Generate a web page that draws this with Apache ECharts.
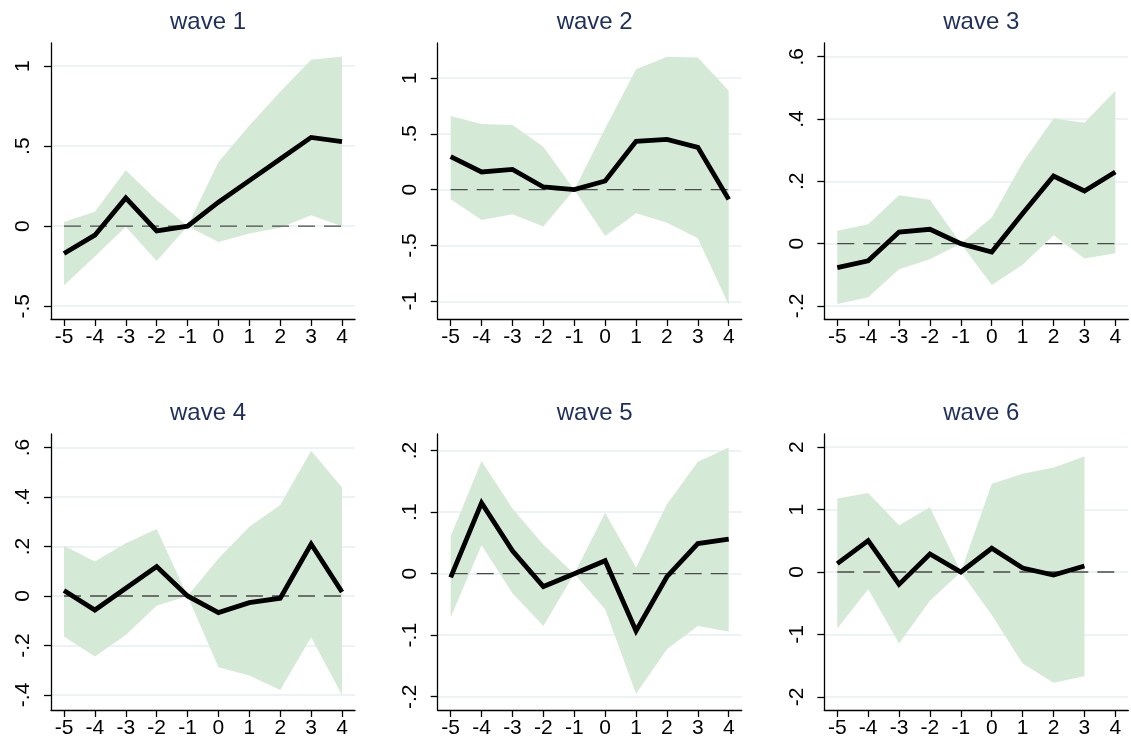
<!DOCTYPE html>
<html>
<head>
<meta charset="utf-8">
<title>Event study by wave</title>
<script src="https://cdn.jsdelivr.net/npm/echarts@6/dist/echarts.min.js"></script>
<style>
  html, body { margin: 0; padding: 0; background: #ffffff; }
  #chart { width: 1131px; height: 742px; }
</style>
</head>
<body>
<div id="chart"></div>
<script>
// Event time (periods relative to treatment)
const periods = [-5, -4, -3, -2, -1, 0, 1, 2, 3, 4];

// Point estimates and 95% confidence bounds, one set per wave
const wave1Est = [-0.171, -0.056, 0.177, -0.029, 0, 0.15, 0.285, 0.42, 0.555, 0.529];
const wave1Lo  = [-0.369, -0.19, -0.004, -0.217, 0, -0.098, -0.046, -0.01, 0.069, 0.0];
const wave1Hi  = [0.027, 0.09, 0.35, 0.163, 0, 0.402, 0.63, 0.84, 1.04, 1.06];

const wave2Est = [0.296, 0.158, 0.182, 0.024, 0, 0.078, 0.433, 0.45, 0.379, -0.087];
const wave2Lo  = [-0.087, -0.272, -0.221, -0.331, 0, -0.415, -0.212, -0.296, -0.436, -1.033];
const wave2Hi  = [0.66, 0.588, 0.579, 0.385, 0, 0.549, 1.078, 1.19, 1.185, 0.887];

const wave3Est = [-0.077, -0.055, 0.037, 0.046, 0, -0.027, 0.097, 0.217, 0.169, 0.23];
const wave3Lo  = [-0.194, -0.172, -0.082, -0.05, 0, -0.133, -0.068, 0.027, -0.048, -0.031];
const wave3Hi  = [0.041, 0.062, 0.155, 0.141, 0, 0.084, 0.26, 0.402, 0.388, 0.491];

const wave4Est = [0.022, -0.057, 0.031, 0.119, 0, -0.067, -0.027, -0.009, 0.21, 0.016];
const wave4Lo  = [-0.164, -0.245, -0.158, -0.039, 0, -0.288, -0.322, -0.38, -0.167, -0.4];
const wave4Hi  = [0.203, 0.139, 0.213, 0.271, 0, 0.152, 0.28, 0.368, 0.587, 0.439];

const wave5Est = [-0.006, 0.115, 0.037, -0.021, 0, 0.021, -0.093, -0.005, 0.049, 0.056];
const wave5Lo  = [-0.071, 0.046, -0.032, -0.085, 0, -0.058, -0.195, -0.123, -0.085, -0.094];
const wave5Hi  = [0.061, 0.183, 0.106, 0.047, 0, 0.099, 0.01, 0.113, 0.182, 0.205];

// wave 6 has no estimate for period 4
const wave6Est = [0.134, 0.503, -0.198, 0.289, 0, 0.38, 0.064, -0.048, 0.096];
const wave6Lo  = [-0.904, -0.278, -1.144, -0.46, 0, -0.69, -1.465, -1.775, -1.668];
const wave6Hi  = [1.176, 1.267, 0.749, 1.037, 0, 1.412, 1.572, 1.674, 1.85];

// Y tick labels per panel
const wave1Ticks = [-0.5, 0, 0.5, 1];
const wave2Ticks = [-1, -0.5, 0, 0.5, 1];
const wave3Ticks = [-0.2, 0, 0.2, 0.4, 0.6];
const wave4Ticks = [-0.4, -0.2, 0, 0.2, 0.4, 0.6];
const wave5Ticks = [-0.2, -0.1, 0, 0.1, 0.2];
const wave6Ticks = [-2, -1, 0, 1, 2];

const panelTitles = ['wave 1', 'wave 2', 'wave 3', 'wave 4', 'wave 5', 'wave 6'];

const panels = [
  { est: wave1Est, lo: wave1Lo, hi: wave1Hi, ticks: wave1Ticks, yMin: -0.58,  yMax: 1.145 },
  { est: wave2Est, lo: wave2Lo, hi: wave2Hi, ticks: wave2Ticks, yMin: -1.159, yMax: 1.314 },
  { est: wave3Est, lo: wave3Lo, hi: wave3Hi, ticks: wave3Ticks, yMin: -0.242, yMax: 0.644 },
  { est: wave4Est, lo: wave4Lo, hi: wave4Hi, ticks: wave4Ticks, yMin: -0.461, yMax: 0.655 },
  { est: wave5Est, lo: wave5Lo, hi: wave5Hi, ticks: wave5Ticks, yMin: -0.2216, yMax: 0.227 },
  { est: wave6Est, lo: wave6Lo, hi: wave6Hi, ticks: wave6Ticks, yMin: -2.21,  yMax: 2.21 }
];

// Layout of the 3 x 2 panel grid (pixels)
const colLefts = [51, 437.7, 824.3];
const rowTops = [43, 434];
const plotW = 304;
const plotH = 276;

const FONT = '"Liberation Sans", Arial, Helvetica, sans-serif';
const BAND = '#d5ead6';
const GRIDLINE = '#e6eff1';

// Stata-style number format: drop the leading zero (".5", "-.2")
function fmt(v) {
  return String(v).replace(/^(-?)0\./, '$1.');
}

const titles = [], grids = [], xAxes = [], yAxes = [], series = [];

panels.forEach((p, i) => {
  const col = i % 3, row = Math.floor(i / 3);
  const left = colLefts[col], top = rowTops[row];

  titles.push({
    text: panelTitles[i],
    left: left + plotW / 2,
    top: top - 38,
    textAlign: 'center',
    textStyle: { fontFamily: FONT, fontSize: 24, fontWeight: 'normal', color: '#1f2f5c' }
  });

  grids.push({ left: left, top: top, width: plotW, height: plotH, containLabel: false });

  xAxes.push({
    type: 'value',
    gridIndex: i,
    min: -5.42,
    max: 4.42,
    axisLine: { show: true, onZero: false, lineStyle: { color: '#000', width: 1.3 } },
    axisTick: { show: true, length: 7, customValues: periods, lineStyle: { color: '#000', width: 1.3 } },
    axisLabel: {
      customValues: periods,
      margin: 8,
      fontFamily: FONT, fontSize: 21, color: '#000',
      formatter: (v) => fmt(v)
    },
    splitLine: { show: false }
  });

  yAxes.push({
    type: 'value',
    gridIndex: i,
    min: p.yMin,
    max: p.yMax,
    axisLine: { show: true, onZero: false, lineStyle: { color: '#000', width: 1.3 } },
    axisTick: { show: true, length: 7, customValues: p.ticks, lineStyle: { color: '#000', width: 1.3 } },
    axisLabel: {
      customValues: p.ticks,
      rotate: 90,
      margin: 17,
      fontFamily: FONT, fontSize: 21, color: '#000',
      formatter: (v) => fmt(v)
    },
    splitLine: { show: true, lineStyle: { color: GRIDLINE, width: 1.5 } }
  });

  // Confidence band as a single polygon: upper bound left-to-right, lower bound back
  const n = p.est.length;
  series.push({
    type: 'custom',
    xAxisIndex: i,
    yAxisIndex: i,
    silent: true,
    z: 1,
    data: [[periods[0], 0]],
    renderItem: (params, api) => {
      const pts = [];
      for (let k = 0; k < n; k++) pts.push(api.coord([periods[k], p.hi[k]]));
      for (let k = n - 1; k >= 0; k--) pts.push(api.coord([periods[k], p.lo[k]]));
      return { type: 'polygon', shape: { points: pts }, style: { fill: BAND } };
    }
  });

  // Dashed reference line at zero
  series.push({
    type: 'line',
    xAxisIndex: i,
    yAxisIndex: i,
    silent: true,
    z: 2,
    symbol: 'none',
    data: [[periods[0], 0], [periods[periods.length - 1], 0]],
    lineStyle: { color: '#4a4a4a', width: 1.3, type: [17, 9] }
  });

  // Point estimates
  series.push({
    type: 'line',
    xAxisIndex: i,
    yAxisIndex: i,
    z: 3,
    symbol: 'none',
    data: p.est.map((v, k) => [periods[k], v]),
    lineStyle: { color: '#000', width: 4.8, join: 'miter', cap: 'butt' }
  });
});

const chart = echarts.init(document.getElementById('chart'), null, { renderer: 'canvas' });
chart.setOption({
  animation: false,
  backgroundColor: '#ffffff',
  title: titles,
  grid: grids,
  xAxis: xAxes,
  yAxis: yAxes,
  series: series
});
</script>
</body>
</html>
